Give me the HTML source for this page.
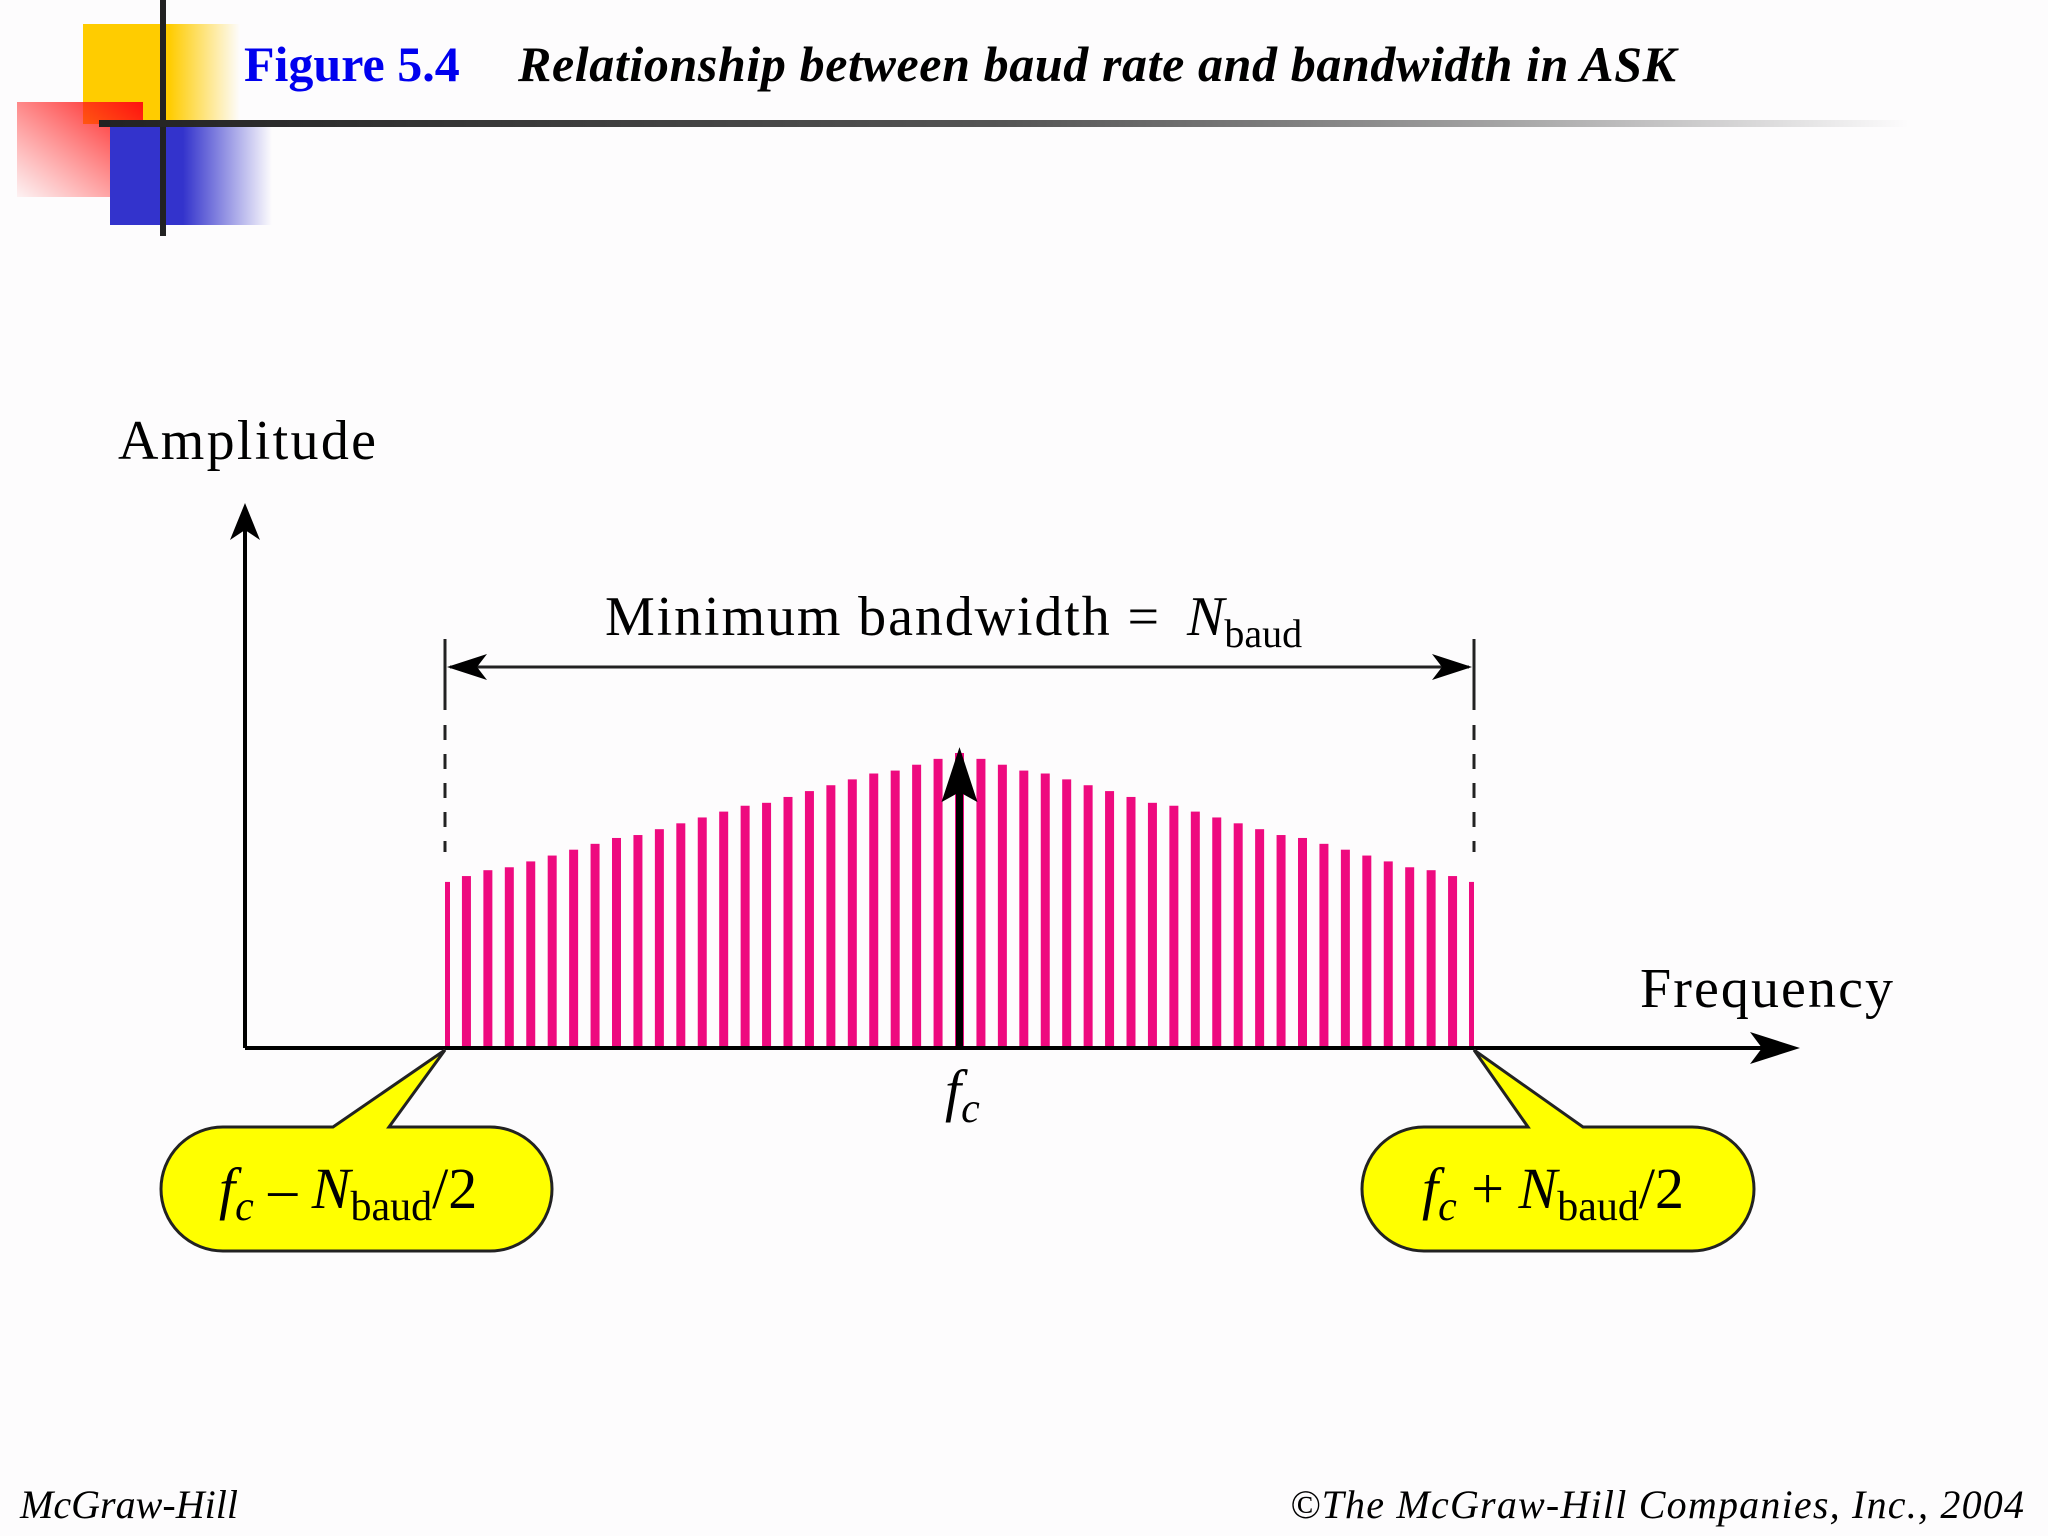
<!DOCTYPE html>
<html><head><meta charset="utf-8"><style>
html,body{margin:0;padding:0;background:#fdfcfd;}
svg{display:block;}
text{font-family:"Liberation Serif",serif;}
</style></head><body>
<svg width="2048" height="1536" viewBox="0 0 2048 1536">
<defs>
<linearGradient id="gy" x1="0" x2="1"><stop offset="0.55" stop-color="#ffcc00"/><stop offset="1" stop-color="#ffcc00" stop-opacity="0"/></linearGradient>
<linearGradient id="gr" x1="1" y1="0" x2="0" y2="1"><stop offset="0" stop-color="#ff1010"/><stop offset="1" stop-color="#ff3030" stop-opacity="0.05"/></linearGradient>
<linearGradient id="gb" x1="0" x2="1"><stop offset="0.45" stop-color="#3333cc"/><stop offset="1" stop-color="#3333cc" stop-opacity="0"/></linearGradient>
<linearGradient id="gl" x1="0" x2="1"><stop offset="0" stop-color="#222"/><stop offset="0.5" stop-color="#555"/><stop offset="1" stop-color="#222" stop-opacity="0"/></linearGradient>
</defs>
<g>
<rect x="83" y="24" width="157" height="100" fill="url(#gy)"/>
<rect x="17" y="102" width="126" height="95" fill="url(#gr)"/>
<rect x="110" y="125" width="162" height="100" fill="url(#gb)"/>
<rect x="160" y="0" width="6" height="236" fill="#222"/>
<rect x="99" y="120" width="1810" height="7" fill="url(#gl)"/>
</g>
<text x="244" y="81" font-size="50" font-weight="bold" fill="#0000ee">Figure 5.4</text>
<text x="518" y="81" font-size="50" font-weight="bold" font-style="italic" fill="#000" textLength="1158">Relationship between baud rate and bandwidth in ASK</text>

<g id="bars"></g>

<g>
<line x1="245" y1="1048" x2="1780" y2="1048" stroke="#000" stroke-width="4"/>
<polygon points="1800,1048 1750,1032 1762,1048 1750,1064" fill="#000"/>
<line x1="245" y1="1048" x2="245" y2="520" stroke="#000" stroke-width="4"/>
<polygon points="245,503 230,540 245,530 260,540" fill="#000"/>
</g>
<text x="118" y="459" font-size="56" textLength="258">Amplitude</text>
<text x="1640" y="1007" font-size="56" textLength="253">Frequency</text>

<g>
<line x1="445" y1="639" x2="445" y2="710" stroke="#222" stroke-width="3"/>
<line x1="1474" y1="639" x2="1474" y2="710" stroke="#222" stroke-width="3"/>
<line x1="445" y1="725" x2="445" y2="852" stroke="#222" stroke-width="3" stroke-dasharray="15,14"/>
<line x1="1474" y1="725" x2="1474" y2="852" stroke="#222" stroke-width="3" stroke-dasharray="15,14"/>
<line x1="450" y1="667" x2="1469" y2="667" stroke="#222" stroke-width="3"/>
<polygon points="447,667 487,654 477,667 487,680" fill="#000"/>
<polygon points="1472,667 1432,654 1442,667 1432,680" fill="#000"/>
</g>
<text x="605" y="635" font-size="56"><tspan textLength="570">Minimum bandwidth = </tspan><tspan x="1187" font-style="italic">N</tspan><tspan font-size="40" dy="12">baud</tspan></text>

<g id="carrier"></g>
<text x="945" y="1110" font-size="58" font-style="italic">f<tspan font-size="42" dy="12">c</tspan></text>

<g>
<path d="M333,1127 L445,1050 L389,1127 L490,1127 A62,62 0 0 1 552,1189 A62,62 0 0 1 490,1251 L223,1251 A62,62 0 0 1 161,1189 A62,62 0 0 1 223,1127 Z" fill="#ffff00" stroke="#222" stroke-width="3"/>
<text x="219" y="1208" font-size="58"><tspan font-style="italic">f</tspan><tspan font-style="italic" font-size="42" dy="12">c</tspan><tspan dy="-12"> – </tspan><tspan font-style="italic">N</tspan><tspan font-size="42" dy="12">baud</tspan><tspan dy="-12">/2</tspan></text>
</g>
<g>
<path d="M1474,1050 L1583,1127 L1692,1127 A62,62 0 0 1 1754,1189 A62,62 0 0 1 1692,1251 L1424,1251 A62,62 0 0 1 1362,1189 A62,62 0 0 1 1424,1127 L1528,1127 Z" fill="#ffff00" stroke="#222" stroke-width="3"/>
<text x="1422" y="1208" font-size="58"><tspan font-style="italic">f</tspan><tspan font-style="italic" font-size="42" dy="12">c</tspan><tspan dy="-12"> + </tspan><tspan font-style="italic">N</tspan><tspan font-size="42" dy="12">baud</tspan><tspan dy="-12">/2</tspan></text>
</g>

<text x="20" y="1518" font-size="40" font-style="italic" textLength="218">McGraw-Hill</text>
<text x="1290" y="1518" font-size="40" font-style="italic" textLength="734">©The McGraw-Hill Companies, Inc., 2004</text>
</svg>
<script>
// Bar offsets (in units of bar spacing from fc) and relative amplitudes
const barOffsets = [-24,-23,-22,-21,-20,-19,-18,-17,-16,-15,-14,-13,-12,-11,-10,-9,-8,-7,-6,-5,-4,-3,-2,-1,0,1,2,3,4,5,6,7,8,9,10,11,12,13,14,15,16,17,18,19,20,21,22,23,24];
const barAmplitudes = [0.56,0.58,0.60,0.61,0.63,0.65,0.67,0.69,0.71,0.72,0.74,0.76,0.78,0.80,0.82,0.83,0.85,0.87,0.89,0.91,0.93,0.94,0.96,0.98,1.00,0.98,0.96,0.94,0.93,0.91,0.89,0.87,0.85,0.83,0.82,0.80,0.78,0.76,0.74,0.72,0.71,0.69,0.67,0.65,0.63,0.61,0.60,0.58,0.56];
const carrierAmplitude = [1.02];

const NS = 'http://www.w3.org/2000/svg';
const fcX = 959.5, halfSpan = 514.5, maxOff = 24;
const baseY = 1046, peakH = 293;
function xScale(o){ return fcX + o * halfSpan / maxOff; }
function yScale(a){ return baseY - a * peakH; }

const g = document.getElementById('bars');
barOffsets.forEach((o, i) => {
  const r = document.createElementNS(NS, 'rect');
  const edge = Math.abs(o) === maxOff;
  const w = edge ? 5 : 9;
  let x = xScale(o) - w / 2;
  if (o === -maxOff) x = xScale(o);
  if (o === maxOff) x = xScale(o) - w;
  const y = yScale(barAmplitudes[i]);
  r.setAttribute('x', x);
  r.setAttribute('y', y);
  r.setAttribute('width', w);
  r.setAttribute('height', baseY - y);
  r.setAttribute('fill', '#ee0a7f');
  
  
  g.appendChild(r);
});

const c = document.getElementById('carrier');
const topY = yScale(carrierAmplitude[0]);
const line = document.createElementNS(NS, 'rect');
line.setAttribute('x', fcX - 3.5);
line.setAttribute('y', topY + 30);
line.setAttribute('width', 7);
line.setAttribute('height', baseY - topY - 30);
line.setAttribute('fill', '#000');


c.appendChild(line);
const head = document.createElementNS(NS, 'polygon');
head.setAttribute('points', `${fcX},${topY} ${fcX-18},${topY+55} ${fcX},${topY+45} ${fcX+18},${topY+55}`);
head.setAttribute('fill', '#000');


c.appendChild(head);
</script>
</body></html>
